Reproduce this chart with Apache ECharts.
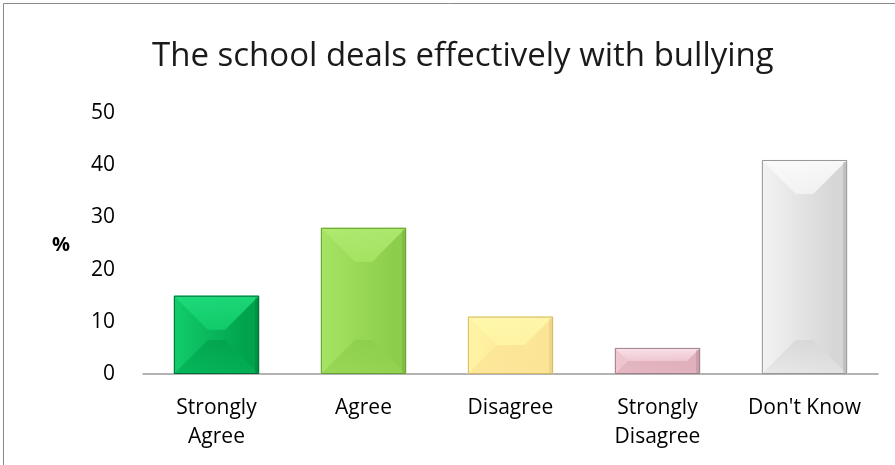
<!DOCTYPE html>
<html>
<head>
<meta charset="utf-8">
<script src="https://cdn.jsdelivr.net/npm/echarts@6/dist/echarts.min.js"></script>
<style>
  html, body { margin: 0; padding: 0; background: #fff; }
  #main { width: 895px; height: 465px; }
</style>
</head>
<body>
<div id="main"></div>
<script>
// chart data
const titleText = 'The school deals effectively with bullying'
const categories = ['Strongly Agree', 'Agree', 'Disagree', 'Strongly Disagree', "Don't Know"]
const percents = [15, 28, 11, 5, 41]
const yTicks = [0, 10, 20, 30, 40, 50]

// bevel palette per bar: top facet, bottom facet, body gradient (from/to), edge
const palettes = [
  { top: '#1fdc7c', bottom: '#05b257', from: '#12cd6c', to: '#00a24c', edge: '#006e38' },
  { top: '#b0ea72', bottom: '#96d454', from: '#a6e464', to: '#8cce4c', edge: '#6a9e34' },
  { top: '#fff8ac', bottom: '#fde498', from: '#fff4a4', to: '#fbe496', edge: '#d2b96c' },
  { top: '#fbe6ec', bottom: '#e2b4c0', from: '#f0c8d2', to: '#e0b0bc', edge: '#9e7f88' },
  { top: '#fcfcfc', bottom: '#e6e6e6', from: '#f3f3f3', to: '#d6d6d6', edge: '#979797' }
]

const myChart = echarts.init(document.getElementById('main'), null, { renderer: 'canvas' })

function renderBar(params, api) {
  const i = api.value(0)
  const v = api.value(1)
  const top = api.coord([i, v])
  const base = api.coord([i, 0])
  const bw = api.size([1, 0])[0] * 0.58
  const x0 = top[0] - bw / 2, x1 = x0 + bw
  const y0 = top[1], y1 = base[1]
  const h = y1 - y0
  const d = Math.min(34, h / 2, bw / 2)
  const p = palettes[i]
  const body = () => new echarts.graphic.LinearGradient(0, 0, 1, 0, [
    { offset: 0, color: p.from }, { offset: 0.85, color: p.to }, { offset: 1, color: p.to }])
  return {
    type: 'group',
    children: [
      { type: 'rect', shape: { x: x0, y: y0, width: bw, height: h }, style: { fill: body() } },
      { type: 'polygon', shape: { points: [[x0, y0], [x1, y0], [x1 - d, y0 + d], [x0 + d, y0 + d]] },
        style: { fill: new echarts.graphic.LinearGradient(0, 0, 0, 1, [
          { offset: 0, color: p.top }, { offset: 1, color: p.from }]), opacity: 0.9 } },
      { type: 'polygon', shape: { points: [[x0, y1], [x1, y1], [x1 - d, y1 - d], [x0 + d, y1 - d]] },
        style: { fill: new echarts.graphic.LinearGradient(0, 0, 0, 1, [
          { offset: 0, color: p.to }, { offset: 1, color: p.bottom }]), opacity: 0.8 } },
      { type: 'rect', shape: { x: x1 - 4, y: y0 + 2, width: 3, height: h - 3 },
        style: { fill: p.edge, opacity: 0.35 } },
      { type: 'rect', shape: { x: x0 + 0.5, y: y0 + 0.5, width: bw - 1, height: h - 1 },
        style: { fill: 'none', stroke: p.edge, lineWidth: 1 } }
    ]
  }
}

myChart.setOption({
  animation: false,
  title: {
    text: titleText,
    left: 147,
    top: 35,
    textStyle: { fontFamily: 'Open Sans', fontWeight: 'normal', fontSize: 33, color: '#1a1a1a' }
  },
  graphic: [
    { type: 'rect', left: 1, top: 1, shape: { width: 892, height: 480 },
      style: { fill: 'none', stroke: '#8a8a8a', lineWidth: 1 } },
    { type: 'text', left: 52, top: 235,
      style: { text: '%', fontFamily: 'Open Sans', fontWeight: 'bold', fontSize: 20, fill: '#000' } }
  ],
  grid: { left: 143, right: 17, top: 113, bottom: 91 },
  xAxis: {
    type: 'category',
    data: categories,
    boundaryGap: true,
    axisTick: { show: false },
    axisLine: { lineStyle: { color: '#9a9a9a', width: 1.5 } },
    axisLabel: {
      interval: 0,
      margin: 20,
      lineHeight: 29,
      fontFamily: 'Open Sans',
      fontSize: 21,
      color: '#000',
      formatter: (v) => v.startsWith('Strongly') ? v.replace(' ', '\n') : v
    }
  },
  yAxis: {
    type: 'value',
    min: yTicks[0],
    max: yTicks[yTicks.length - 1],
    interval: 10,
    axisLine: { show: false },
    axisTick: { show: false },
    splitLine: { show: false },
    axisLabel: { margin: 28, fontFamily: 'Open Sans', fontSize: 21, color: '#000' }
  },
  series: [{
    type: 'custom',
    renderItem: renderBar,
    encode: { x: 0, y: 1 },
    data: percents.map((v, i) => [i, v])
  }]
})
</script>
</body>
</html>
